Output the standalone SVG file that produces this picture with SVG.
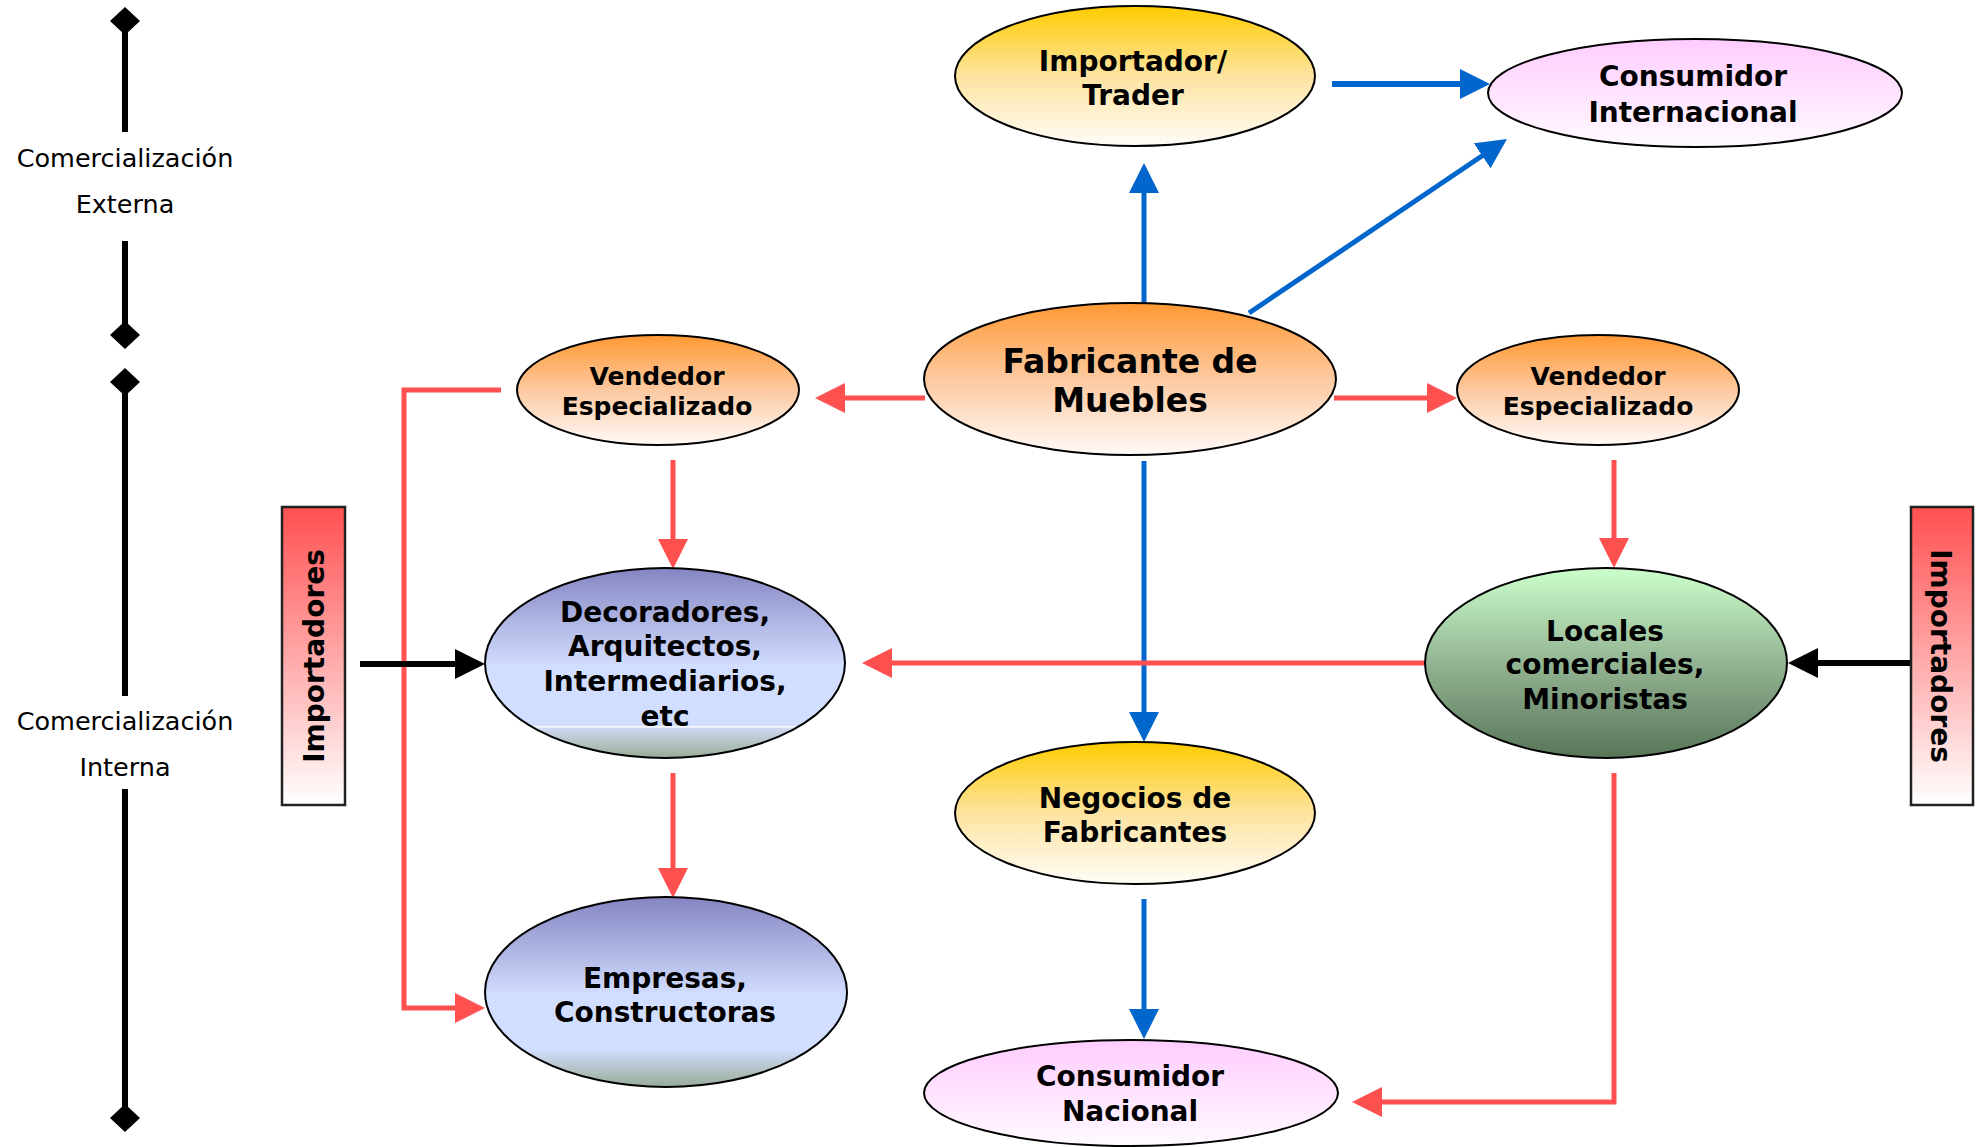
<svg xmlns="http://www.w3.org/2000/svg" width="1979" height="1147" viewBox="0 0 1979 1147">
<style>
  .node { stroke: #000; stroke-width: 2; }
  .t { font-family: "DejaVu Sans", Verdana, "Liberation Sans", sans-serif; font-weight: bold; font-size: 28px; text-anchor: middle; fill: #000; }
  .t25 { font-size: 25px; }
  .t33 { font-size: 33px; }
  .axis-label { font-family: "DejaVu Sans", Verdana, "Liberation Sans", sans-serif; font-size: 25.5px; text-anchor: middle; fill: #000; }
  .axis { stroke: #000; stroke-width: 6; fill: none; }
  .blue { stroke: #0066CC; fill: none; }
  .red { stroke: #FF5050; stroke-width: 5; fill: none; }
  .black { stroke: #000; stroke-width: 6; fill: none; }
</style>
<defs>
  <linearGradient id="gGold" x1="0" y1="0" x2="0" y2="1">
    <stop offset="0" stop-color="#FFCC00"/>
    <stop offset="0.5" stop-color="#FDE3A0"/>
    <stop offset="1" stop-color="#FFFDF8"/>
  </linearGradient>
  <linearGradient id="gPink" x1="0" y1="0" x2="0" y2="1">
    <stop offset="0" stop-color="#FFCCFF"/>
    <stop offset="1" stop-color="#FFFAFF"/>
  </linearGradient>
  <linearGradient id="gOrange" x1="0" y1="0" x2="0" y2="1">
    <stop offset="0" stop-color="#FF9933"/>
    <stop offset="0.5" stop-color="#FDC9A0"/>
    <stop offset="1" stop-color="#FFFAF8"/>
  </linearGradient>
  <linearGradient id="gBlue" x1="0" y1="0" x2="0" y2="1">
    <stop offset="0" stop-color="#8585C2"/>
    <stop offset="0.52" stop-color="#D2DEFF"/>
    <stop offset="0.83" stop-color="#D2DEFF"/>
    <stop offset="0.835" stop-color="#FFFFFF"/>
    <stop offset="0.845" stop-color="#CED8F0"/>
    <stop offset="1" stop-color="#98AC98"/>
  </linearGradient>
  <linearGradient id="gBlue2" x1="0" y1="0" x2="0" y2="1">
    <stop offset="0" stop-color="#8585C2"/>
    <stop offset="0.52" stop-color="#D2DEFF"/>
    <stop offset="0.8" stop-color="#D2DEFF"/>
    <stop offset="1" stop-color="#98AC98"/>
  </linearGradient>
  <linearGradient id="gGreen" x1="0" y1="0" x2="0" y2="1">
    <stop offset="0" stop-color="#CCFFCC"/>
    <stop offset="0.5" stop-color="#93B493"/>
    <stop offset="1" stop-color="#587558"/>
  </linearGradient>
  <linearGradient id="gRed" x1="0" y1="0" x2="0" y2="1">
    <stop offset="0" stop-color="#FF5050"/>
    <stop offset="1" stop-color="#FFFFFF"/>
  </linearGradient>
  <marker id="aBlue" markerUnits="userSpaceOnUse" markerWidth="30" markerHeight="30" refX="22" refY="15" orient="auto">
    <path d="M0,0 L30,15 L0,30 Z" fill="#0066CC"/>
  </marker>
  <marker id="aRed" markerUnits="userSpaceOnUse" markerWidth="30" markerHeight="30" refX="22" refY="15" orient="auto">
    <path d="M0,0 L30,15 L0,30 Z" fill="#FF5050"/>
  </marker>
  <marker id="aBlack" markerUnits="userSpaceOnUse" markerWidth="30" markerHeight="30" refX="22" refY="15" orient="auto">
    <path d="M0,0 L30,15 L0,30 Z" fill="#000"/>
  </marker>
</defs>

<rect width="1979" height="1147" fill="#FFFFFF"/>

<!-- Axis -->
<g id="axis">
  <line class="axis" x1="125" y1="21" x2="125" y2="132"/>
  <line class="axis" x1="125" y1="241" x2="125" y2="335"/>
  <line class="axis" x1="125" y1="382" x2="125" y2="696"/>
  <line class="axis" x1="125" y1="789" x2="125" y2="1118"/>
  <path d="M125,7 L140,21 L125,35 L110,21 Z" fill="#000"/>
  <path d="M125,321 L140,335 L125,349 L110,335 Z" fill="#000"/>
  <path d="M125,368 L140,382 L125,396 L110,382 Z" fill="#000"/>
  <path d="M125,1104 L140,1118 L125,1132 L110,1118 Z" fill="#000"/>
  <text class="axis-label" x="125" y="167">Comercialización</text>
  <text class="axis-label" x="125" y="213">Externa</text>
  <text class="axis-label" x="125" y="730">Comercialización</text>
  <text class="axis-label" x="125" y="776">Interna</text>
</g>

<!-- Connectors -->
<g id="connectors">
  <line class="blue" stroke-width="5" x1="1144" y1="303" x2="1144" y2="171" marker-end="url(#aBlue)"/>
  <line class="blue" stroke-width="6" x1="1332" y1="84" x2="1482" y2="84" marker-end="url(#aBlue)"/>
  <line class="blue" stroke-width="5" x1="1249" y1="313" x2="1500.4" y2="143.5" marker-end="url(#aBlue)"/>
  <line class="blue" stroke-width="5" x1="1144" y1="461" x2="1144" y2="734" marker-end="url(#aBlue)"/>
  <line class="blue" stroke-width="5" x1="1144" y1="899" x2="1144" y2="1031" marker-end="url(#aBlue)"/>
  <line class="red" x1="1334" y1="398" x2="1449" y2="398" marker-end="url(#aRed)"/>
  <line class="red" x1="925" y1="398" x2="823" y2="398" marker-end="url(#aRed)"/>
  <line class="red" x1="673" y1="460" x2="673" y2="561" marker-end="url(#aRed)"/>
  <line class="red" x1="1614" y1="460" x2="1614" y2="560" marker-end="url(#aRed)"/>
  <line class="red" x1="1425" y1="663" x2="870" y2="663" marker-end="url(#aRed)"/>
  <line class="red" x1="673" y1="773" x2="673" y2="890" marker-end="url(#aRed)"/>
  <polyline class="red" points="501,390 404,390 404,1008 477,1008" marker-end="url(#aRed)"/>
  <polyline class="red" points="1614,773 1614,1102 1360,1102" marker-end="url(#aRed)"/>
  <line class="black" x1="360" y1="664" x2="477" y2="664" marker-end="url(#aBlack)"/>
  <line class="black" x1="1911" y1="663" x2="1796" y2="663" marker-end="url(#aBlack)"/>
</g>

<!-- Nodes -->
<g id="importador-trader">
  <ellipse class="node" cx="1135" cy="76" rx="180" ry="70" fill="url(#gGold)"/>
  <text class="t" x="1133" y="71">Importador/</text>
  <text class="t" x="1133" y="105">Trader</text>
</g>
<g id="consumidor-internacional">
  <ellipse class="node" cx="1695" cy="93" rx="207" ry="54" fill="url(#gPink)"/>
  <text class="t" x="1693" y="86">Consumidor</text>
  <text class="t" x="1693" y="122">Internacional</text>
</g>
<g id="fabricante">
  <ellipse class="node" cx="1130" cy="379" rx="206" ry="76" fill="url(#gOrange)"/>
  <text class="t t33" x="1130" y="373">Fabricante de</text>
  <text class="t t33" x="1130" y="412">Muebles</text>
</g>
<g id="vendedor-izq">
  <ellipse class="node" cx="658" cy="390" rx="141" ry="55" fill="url(#gOrange)"/>
  <text class="t t25" x="657" y="385">Vendedor</text>
  <text class="t t25" x="657" y="415">Especializado</text>
</g>
<g id="vendedor-der">
  <ellipse class="node" cx="1598" cy="390" rx="141" ry="55" fill="url(#gOrange)"/>
  <text class="t t25" x="1598" y="385">Vendedor</text>
  <text class="t t25" x="1598" y="415">Especializado</text>
</g>
<g id="decoradores">
  <ellipse class="node" cx="665" cy="663" rx="180" ry="95" fill="url(#gBlue)"/>
  <text class="t" x="665" y="622">Decoradores,</text>
  <text class="t" x="665" y="656">Arquitectos,</text>
  <text class="t" x="665" y="691">Intermediarios,</text>
  <text class="t" x="665" y="726">etc</text>
</g>
<g id="locales">
  <ellipse class="node" cx="1606" cy="663" rx="181" ry="95" fill="url(#gGreen)"/>
  <text class="t" x="1605" y="641">Locales</text>
  <text class="t" x="1605" y="674">comerciales,</text>
  <text class="t" x="1605" y="709">Minoristas</text>
</g>
<g id="negocios">
  <ellipse class="node" cx="1135" cy="813" rx="180" ry="71" fill="url(#gGold)"/>
  <text class="t" x="1135" y="808">Negocios de</text>
  <text class="t" x="1135" y="842">Fabricantes</text>
</g>
<g id="empresas">
  <ellipse class="node" cx="666" cy="992" rx="181" ry="95" fill="url(#gBlue2)"/>
  <text class="t" x="665" y="988">Empresas,</text>
  <text class="t" x="665" y="1022">Constructoras</text>
</g>
<g id="consumidor-nacional">
  <ellipse class="node" cx="1131" cy="1093" rx="207" ry="53" fill="url(#gPink)"/>
  <text class="t" x="1130" y="1086">Consumidor</text>
  <text class="t" x="1130" y="1121">Nacional</text>
</g>
<g id="importadores-izq">
  <rect x="282" y="507" width="63" height="298" fill="url(#gRed)" stroke="#222" stroke-width="2.5"/>
  <text class="t" font-size="25.5" transform="translate(324,656) rotate(-90)" x="0" y="0">Importadores</text>
</g>
<g id="importadores-der">
  <rect x="1911" y="507" width="62" height="298" fill="url(#gRed)" stroke="#222" stroke-width="2.5"/>
  <text class="t" font-size="25.5" transform="translate(1931,656) rotate(90)" x="0" y="0">Importadores</text>
</g>
</svg>
